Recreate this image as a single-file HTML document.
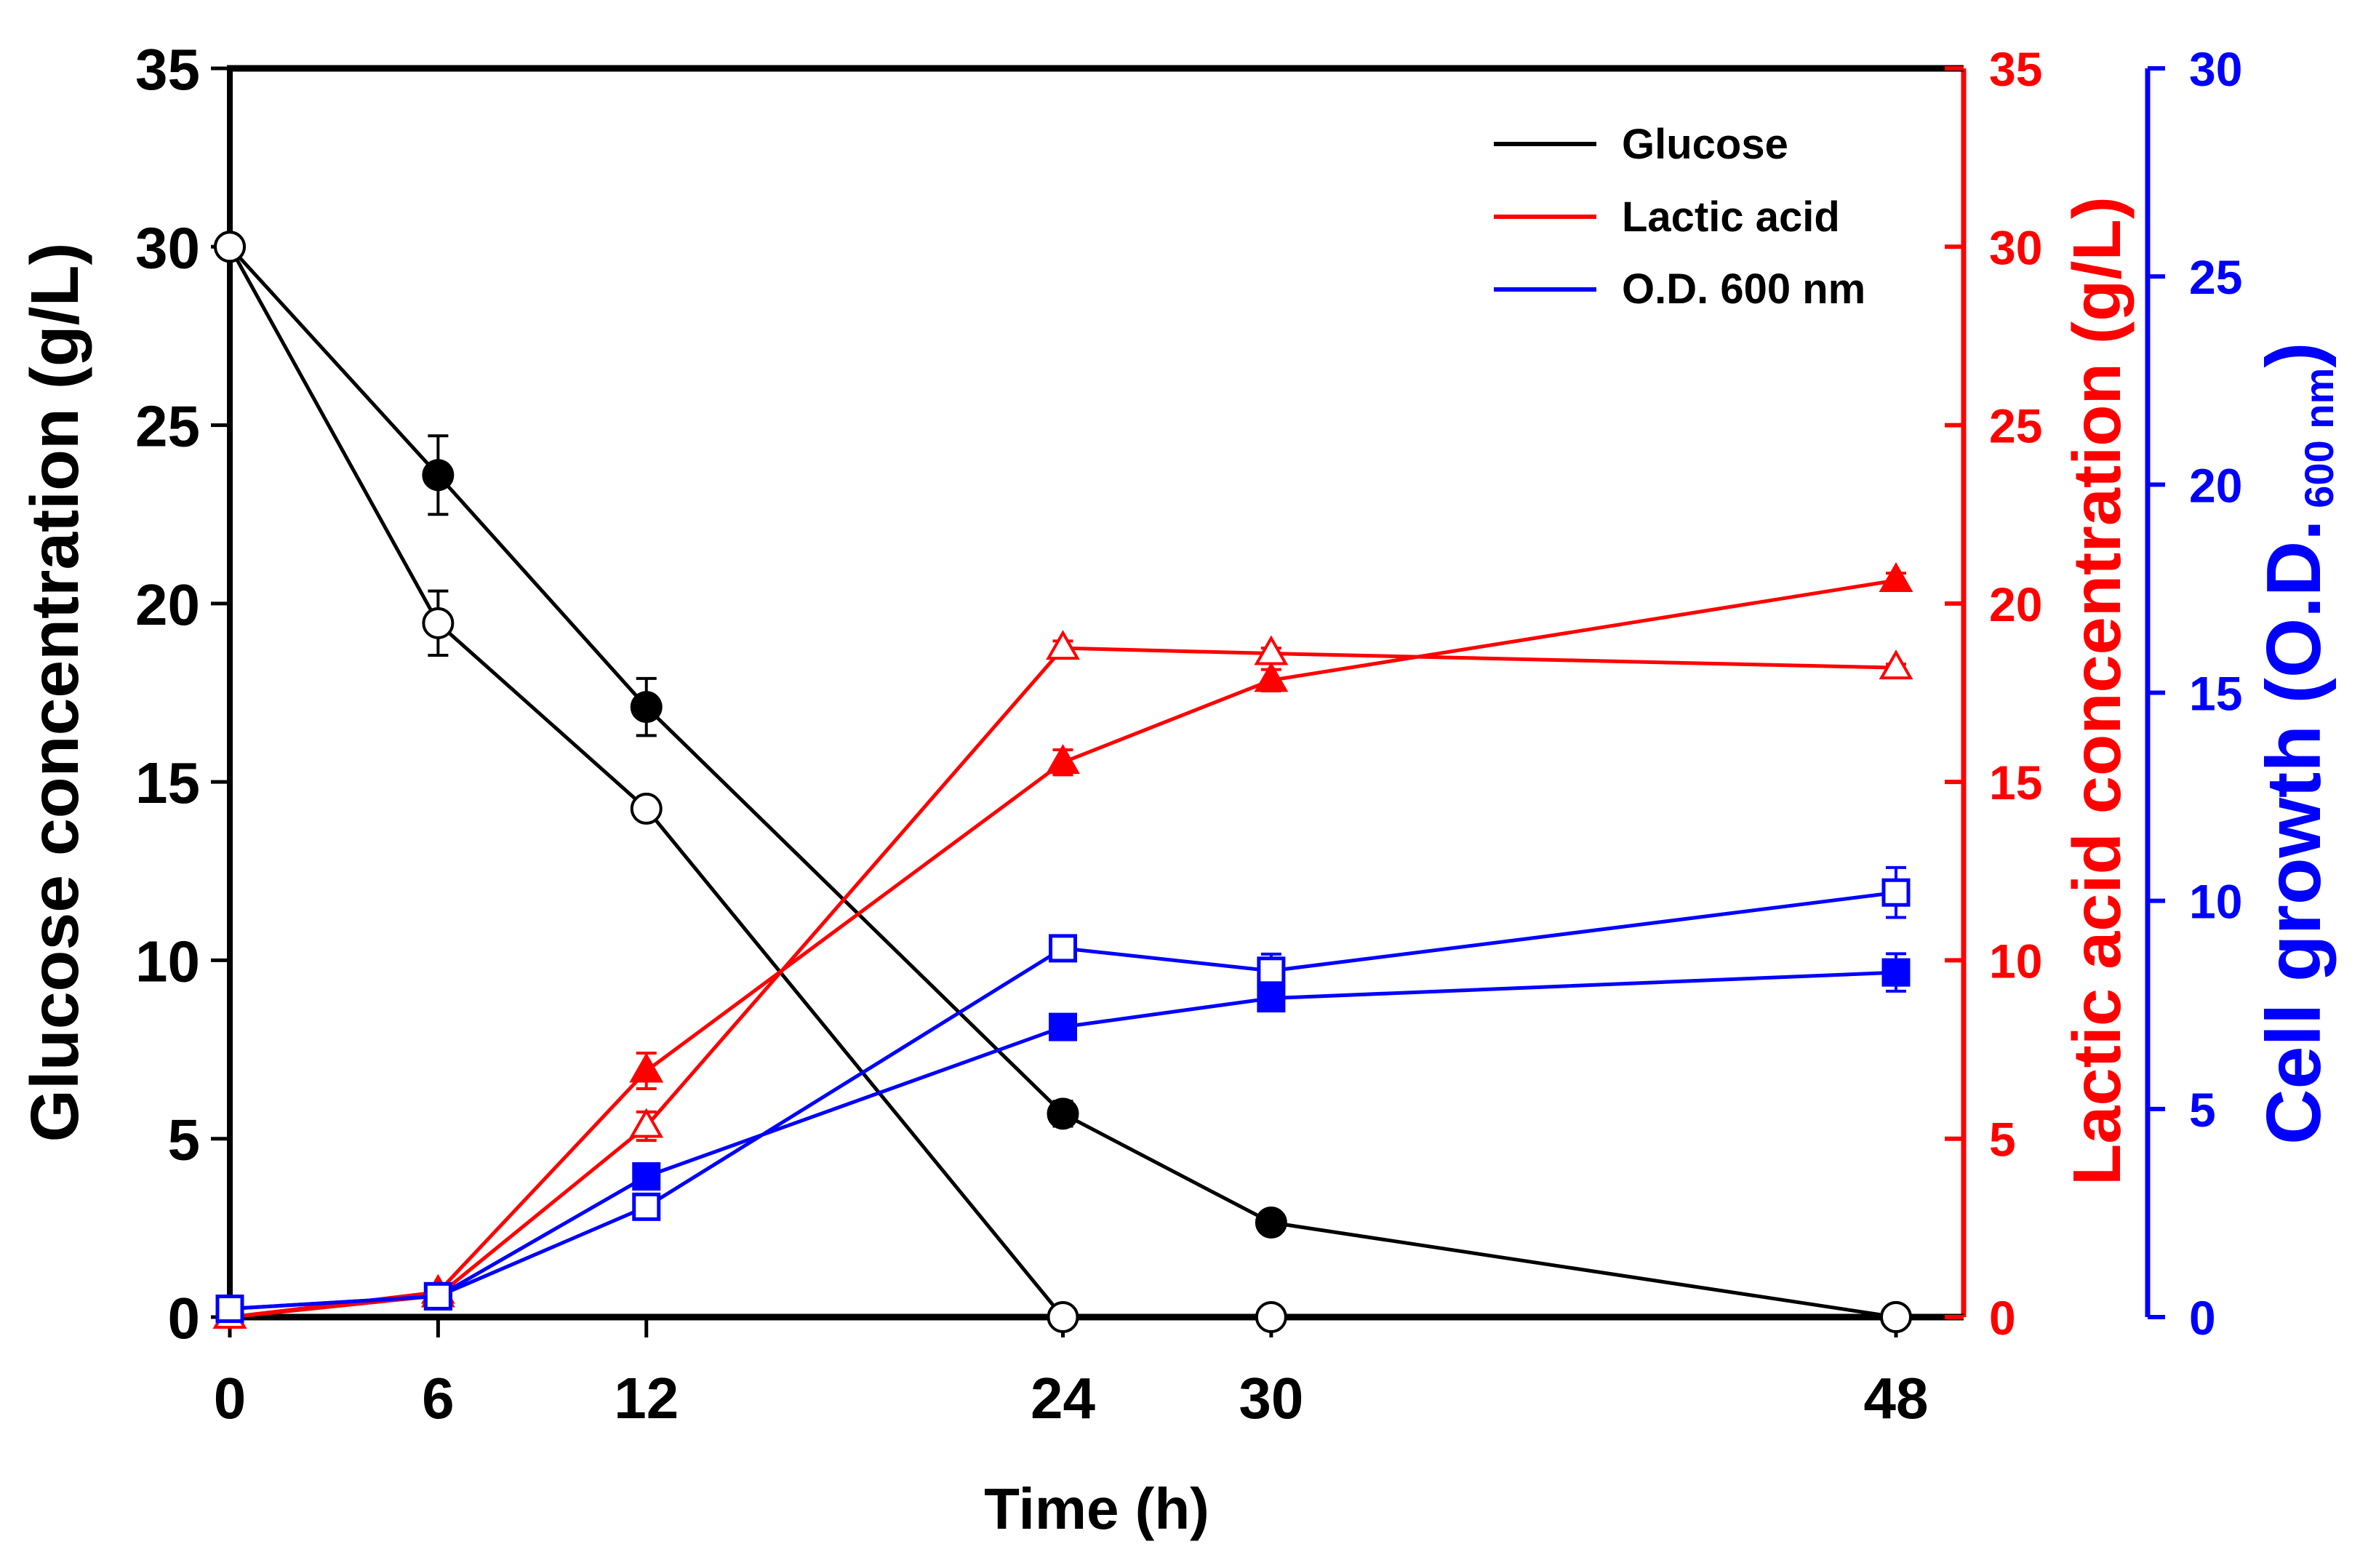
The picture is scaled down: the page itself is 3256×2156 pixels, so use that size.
<!DOCTYPE html>
<html><head><meta charset="utf-8"><style>
html,body{margin:0;padding:0;background:#fff}
svg{display:block}
text{font-family:"Liberation Sans",Arial,sans-serif;font-weight:bold}
</style></head><body>
<svg id="chart" width="3256" height="2156" viewBox="0 0 3256 2156" xmlns="http://www.w3.org/2000/svg">
<rect width="3256" height="2156" fill="#fff"/>
<g id="plot"></g>
<text x="1508" y="2102" font-size="80" text-anchor="middle">Time (h)</text>
<text transform="translate(107,952) rotate(-90)" font-size="93" text-anchor="middle" textLength="1237" lengthAdjust="spacingAndGlyphs">Glucose concentration (g/L)</text>
<text transform="translate(2915,950) rotate(-90)" font-size="93" fill="#ff0000" text-anchor="middle" textLength="1360" lengthAdjust="spacingAndGlyphs">Lactic acid concentration (g/L)</text>
<text transform="translate(3190,1574) rotate(-90)" font-size="106" fill="#0000ff">Cell growth (O.D.<tspan font-size="56"> </tspan><tspan font-size="56" dy="18">600 nm</tspan><tspan dy="-18">)</tspan></text>
<g>
<line x1="2054" y1="198" x2="2195" y2="198" stroke="#000" stroke-width="6"/>
<text x="2230" y="218" font-size="58">Glucose</text>
<line x1="2054" y1="298" x2="2195" y2="298" stroke="#ff0000" stroke-width="6"/>
<text x="2230" y="318" font-size="58">Lactic acid</text>
<line x1="2054" y1="398" x2="2195" y2="398" stroke="#0000ff" stroke-width="6"/>
<text x="2230" y="417" font-size="58">O.D. 600 nm</text>
</g>
</svg>
<script>
const times = [0, 6, 12, 24, 30, 48];
const xTicks = [0, 6, 12, 24, 30, 48];
const leftTicks = [0, 5, 10, 15, 20, 25, 30, 35];
const redTicks = [0, 5, 10, 15, 20, 25, 30, 35];
const blueTicks = [0, 5, 10, 15, 20, 25, 30];
const glucoseFilled = [30, 23.6, 17.1, 5.7, 2.65, 0];
const glucoseFilledErr = [0, 1.1, 0.8, 0.35, 0.3, 0];
const glucoseOpen = [30, 19.45, 14.25, 0, 0, 0];
const glucoseOpenErr = [0, 0.9, 0.3, 0, 0, 0];
const lacticFilled = [0, 0.7, 6.9, 15.55, 17.85, 20.65];
const lacticFilledErr = [0, 0.1, 0.5, 0.35, 0.3, 0.2];
const lacticOpen = [0, 0.6, 5.35, 18.75, 18.6, 18.2];
const lacticOpenErr = [0, 0.1, 0.4, 0.2, 0.15, 0.1];
const odFilled = [0.2, 0.5, 3.38, 6.97, 7.66, 8.28];
const odFilledErr = [0, 0.1, 0.2, 0.2, 0.3, 0.45];
const odOpen = [0.2, 0.5, 2.65, 8.86, 8.32, 10.2];
const odOpenErr = [0, 0.1, 0.2, 0.2, 0.4, 0.6];

const X0 = 316, XPH = (2607 - 316) / 48;
const Y0 = 1811, YTOP = 94;
const xS = t => X0 + t * XPH;
const yL = v => Y0 - v * (Y0 - YTOP) / 35;
const yR = v => Y0 - v * (Y0 - YTOP) / 35;
const yB = v => Y0 - v * (Y0 - YTOP) / 30;
const NS = 'http://www.w3.org/2000/svg';
const plot = document.getElementById('plot');
function mk(tag, attrs, parent) {
  const e = document.createElementNS(NS, tag);
  for (const k in attrs) e.setAttribute(k, attrs[k]);
  (parent || plot).appendChild(e);
  return e;
}
let a;
a = mk('line', {x1: 2700, y1: YTOP, x2: 2700, y2: Y0, stroke: '#ff0000', 'stroke-width': 7});


a = mk('line', {x1: 2953, y1: YTOP, x2: 2953, y2: Y0, stroke: '#0000ff', 'stroke-width': 7});


a = mk('line', {x1: 316, y1: YTOP, x2: 316, y2: Y0 + 4, stroke: '#000', 'stroke-width': 8});


a = mk('line', {x1: 312, y1: YTOP, x2: 2700, y2: YTOP, stroke: '#000', 'stroke-width': 9});


a = mk('line', {x1: 312, y1: Y0, x2: 2700, y2: Y0, stroke: '#000', 'stroke-width': 9});



xTicks.forEach(t => {
  const tk = mk('line', {x1: xS(t), y1: Y0, x2: xS(t), y2: Y0 + 28, stroke: '#000', 'stroke-width': 5});
  
  
  const lb = mk('text', {x: xS(t), y: 1950, 'font-size': 80, 'text-anchor': 'middle'});
  lb.textContent = t;
  
  
});
leftTicks.forEach(v => {
  const tk = mk('line', {x1: 316, y1: yL(v), x2: 290, y2: yL(v), stroke: '#000', 'stroke-width': 5});
  
  
  const lb = mk('text', {x: 275, y: yL(v) + 29, 'font-size': 80, 'text-anchor': 'end'});
  lb.textContent = v;
  
  
});
redTicks.forEach(v => {
  const tk = mk('line', {x1: 2700, y1: yR(v), x2: 2674, y2: yR(v), stroke: '#ff0000', 'stroke-width': 6});
  
  
  const lb = mk('text', {x: 2735, y: yR(v) + 24, 'font-size': 66, fill: '#ff0000'});
  lb.textContent = v;
  
  
});
blueTicks.forEach(v => {
  const tk = mk('line', {x1: 2953, y1: yB(v), x2: 2977, y2: yB(v), stroke: '#0000ff', 'stroke-width': 6});
  
  
  const lb = mk('text', {x: 3010, y: yB(v) + 24, 'font-size': 66, fill: '#0000ff'});
  lb.textContent = v;
  
  
});

function series(name, vals, errs, ys, color, shape, filled) {
  const g = mk('g', {});
  
  
  const pts = vals.map((v, i) => xS(times[i]) + ',' + ys(v)).join(' ');
  const pl = mk('polyline', {points: pts, fill: 'none', stroke: color, 'stroke-width': 5}, g);
  
  
  vals.forEach((v, i) => {
    const cx = xS(times[i]), cy = ys(v);
    if (errs[i] > 0) {
      const y1 = ys(v + errs[i]), y2 = ys(v - errs[i]);
      const eb = mk('path', {d: `M${cx},${y1}V${y2}M${cx - 14},${y1}H${cx + 14}M${cx - 14},${y2}H${cx + 14}`, stroke: color, 'stroke-width': 4, fill: 'none'}, g);
      
      
    }
    let m;
    const fill = filled ? color : '#fff';
    if (shape === 'circle') m = mk('circle', {cx, cy, r: 20, fill, stroke: color, 'stroke-width': 4}, g);
    else if (shape === 'tri') m = mk('polygon', {points: `${cx},${cy - 21} ${cx - 20},${cy + 14} ${cx + 20},${cy + 14}`, fill, stroke: color, 'stroke-width': 4}, g);
    else m = mk('rect', {x: cx - 17, y: cy - 17, width: 34, height: 34, fill, stroke: color, 'stroke-width': 5}, g);
    
    
  });
}
series('glucose-filled', glucoseFilled, glucoseFilledErr, yL, '#000', 'circle', true);
series('glucose-open', glucoseOpen, glucoseOpenErr, yL, '#000', 'circle', false);
series('lactic-filled', lacticFilled, lacticFilledErr, yR, '#ff0000', 'tri', true);
series('lactic-open', lacticOpen, lacticOpenErr, yR, '#ff0000', 'tri', false);
series('od-filled', odFilled, odFilledErr, yB, '#0000ff', 'square', true);
series('od-open', odOpen, odOpenErr, yB, '#0000ff', 'square', false);
</script>
</body></html>
